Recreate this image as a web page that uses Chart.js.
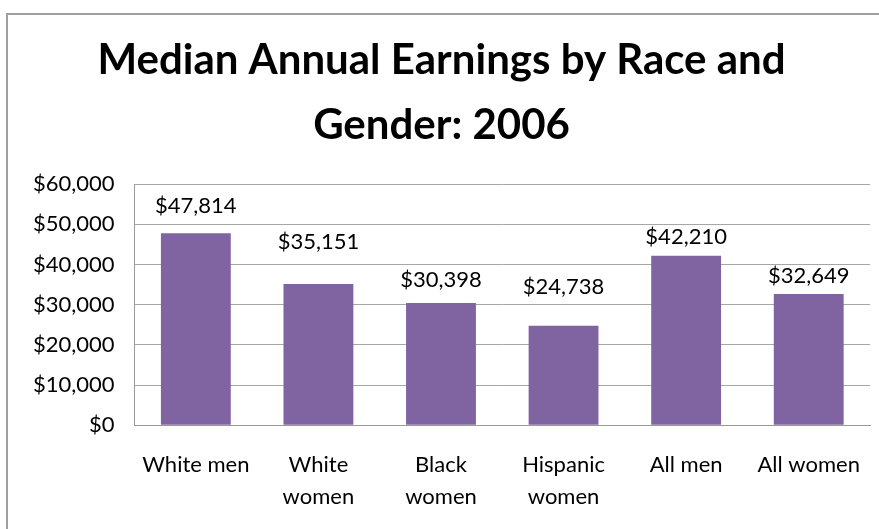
<!DOCTYPE html>
<html>
<head>
<meta charset="utf-8">
<script src="https://cdn.jsdelivr.net/npm/chart.js@4"></script>
<style>
  html, body { margin: 0; padding: 0; background: #fff; overflow: hidden; }
  .edge { position: absolute; background: #a0a0a0; }
  #edgeTop { left: 6px; top: 13px; width: 900px; height: 2px; }
  #edgeLeft { left: 6px; top: 13px; width: 2px; height: 600px; }
  #wrap { position: absolute; left: 0; top: 0; width: 879px; height: 529px; }
</style>
</head>
<body>
<div class="edge" id="edgeTop"></div>
<div class="edge" id="edgeLeft"></div>
<div id="wrap"><canvas id="earningsChart"></canvas></div>
<script>
// Categories and values
const categories = ['White men', ['White', 'women'], ['Black', 'women'], ['Hispanic', 'women'], 'All men', 'All women'];
const earnings = [47814, 35151, 30398, 24738, 42210, 32649];
const yTicks = [0, 10000, 20000, 30000, 40000, 50000, 60000];

// How far each value label sits above its bar (px), as placed in the original
const labelLift = [20, 35, 16, 32, 12, 11];

const money = v => '$' + v.toLocaleString('en-US');
const FONT = 'Lato, "Open Sans", sans-serif';

// Draw the dollar values above each bar
const valueLabels = {
    id: 'valueLabels',
    afterDatasetsDraw(chart) {
        const ctx = chart.ctx;
        const meta = chart.getDatasetMeta(0);
        ctx.save();
        ctx.font = '22px ' + FONT;
        ctx.fillStyle = '#000';
        ctx.textAlign = 'center';
        ctx.textBaseline = 'alphabetic';
        meta.data.forEach((bar, i) => {
            ctx.fillText(money(earnings[i]), bar.x, bar.y - labelLift[i]);
        });
        ctx.restore();
    }
};

const ctx = document.getElementById('earningsChart').getContext('2d');
const chart = new Chart(ctx, {
    type: 'bar',
    data: {
        labels: categories,
        datasets: [{
            data: earnings,
            backgroundColor: '#8064A2',
            borderWidth: 0,
            categoryPercentage: 1,
            barPercentage: 0.57
        }]
    },
    options: {
        responsive: true,
        maintainAspectRatio: false,
        animation: false,
        // negative bottom padding offsets the room Chart.js reserves for the x labels
        layout: { padding: { left: 13, right: 9, top: 0, bottom: -8 } },
        plugins: {
            legend: { display: false },
            tooltip: { enabled: false },
            title: {
                display: true,
                text: ['Median Annual Earnings by Race and', 'Gender: 2006'],
                color: '#000',
                font: { family: FONT, size: 42, weight: 'bold', lineHeight: 1.55 },
                padding: { top: 28, bottom: 26 }
            }
        },
        scales: {
            x: {
                grid: { display: false, drawTicks: false },
                border: { display: true, color: '#999' },
                // labels fit inside their slots, so no extra room on the right
                afterFit(axis) { axis.paddingRight = 0; },
                ticks: {
                    color: '#000',
                    font: { family: FONT, size: 22, lineHeight: 1.45 },
                    padding: 24,
                    maxRotation: 0,
                    autoSkip: false
                }
            },
            y: {
                min: 0,
                max: 60000,
                afterBuildTicks(axis) { axis.ticks = yTicks.map(v => ({ value: v })); },
                grid: { color: '#a6a6a6', drawTicks: false },
                border: { display: true, color: '#999' },
                ticks: {
                    color: '#000',
                    font: { family: FONT, size: 22 },
                    padding: 20,
                    callback: v => money(v)
                }
            }
        }
    },
    plugins: [valueLabels]
});
</script>
</body>
</html>
